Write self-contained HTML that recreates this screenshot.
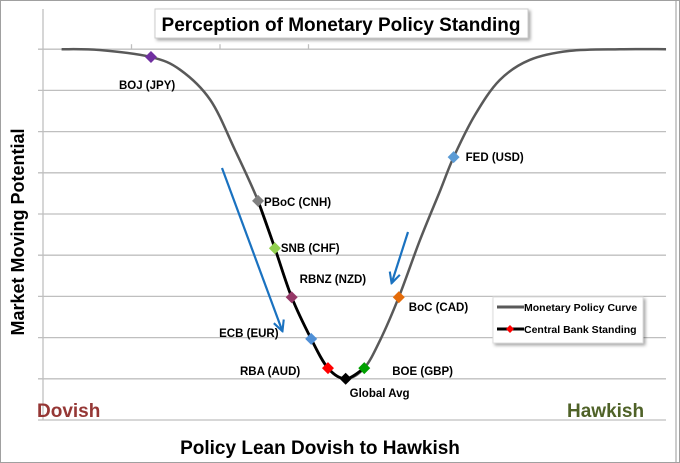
<!DOCTYPE html>
<html><head><meta charset="utf-8"><style>
body{margin:0;background:#fff}
svg{display:block;font-family:"Liberation Sans",Calibri,sans-serif}
text{font-weight:bold}
</style></head><body>
<svg id="c" width="680" height="463" viewBox="0 0 680 463">
<defs>
<filter id="sh" x="-10%" y="-20%" width="130%" height="150%"><feDropShadow dx="2" dy="2" stdDeviation="1.5" flood-color="#000" flood-opacity="0.35"/></filter>
<marker id="ah" viewBox="0 0 10 10" refX="8" refY="5" markerWidth="6" markerHeight="6" orient="auto"><path d="M1,1 L9,5 L1,9" fill="none" stroke="#1a72c0" stroke-width="1.6"/></marker>
</defs>
<rect x="0.5" y="0.5" width="679" height="462" fill="#fff" stroke="#a0a0a0"/>
<line x1="676" y1="1" x2="676" y2="462" stroke="#999"/>
<g id="grid"></g>
<line x1="38" y1="420" x2="666" y2="420" stroke="#bfbfbf" stroke-width="1.3"/>
<g id="curves"></g>
<g id="marks"></g>
<line x1="222" y1="168" x2="282" y2="330" stroke="#1a72c0" stroke-width="2.2" marker-end="url(#ah)"/>
<line x1="408" y1="232" x2="392" y2="282" stroke="#1a72c0" stroke-width="2.2" marker-end="url(#ah)"/>
<g>
<rect x="155" y="9" width="373" height="29" fill="#fff" stroke="#ccc" filter="url(#sh)"/>
<text x="341" y="31" font-size="19" text-anchor="middle" fill="#000">Perception of Monetary Policy Standing</text>
</g>
<text transform="translate(24,232) rotate(-90)" font-size="18" text-anchor="middle">Market Moving Potential</text>
<text x="320" y="454" font-size="19" text-anchor="middle">Policy Lean Dovish to Hawkish</text>
<text x="37" y="417" font-size="19" fill="#953735">Dovish</text>
<text x="567" y="417" font-size="19" fill="#4f6228">Hawkish</text>
<g>
<rect x="493" y="297" width="150" height="46" fill="#fff" stroke="#ddd" filter="url(#sh)"/>
<line x1="497" y1="307" x2="524" y2="307" stroke="#595959" stroke-width="3"/>
<text x="524" y="311" font-size="10.5">Monetary Policy Curve</text>
<line x1="497" y1="329" x2="524" y2="329" stroke="#000" stroke-width="3"/>
<path d="M510,325 L514,329 L510,333 L506,329Z" fill="#f00"/>
<text x="524" y="333" font-size="10.5">Central Bank Standing</text>
</g>
</svg>
<script>
const curveX=[0.21,0.64,1.22,1.55,1.89,2.17,2.43,2.62,2.81,3.03,3.22,3.42,3.63,3.81,4.02,4.26,4.49,4.64,4.88,5.16,5.50,5.95,6.52,7.04];
const curveY=[9.0,8.98,8.81,8.50,7.77,6.55,5.32,4.17,2.98,1.97,1.26,1.0,1.26,1.94,2.98,4.37,5.58,6.38,7.40,8.25,8.74,8.96,9.0,9.0];
const banks=["BOJ (JPY)","PBoC (CNH)","SNB (CHF)","RBNZ (NZD)","ECB (EUR)","RBA (AUD)","Global Avg","BOE (GBP)","BoC (CAD)","FED (USD)"];
const bankX=[1.22,2.43,2.62,2.81,3.03,3.22,3.42,3.63,4.02,4.64];
const bankY=[8.81,5.32,4.17,2.98,1.97,1.26,1.0,1.26,2.98,6.38];
const yTicks=[1,2,3,4,5,6,7,8,9];
const xTicks=[1,2,3];
const colors=["#7030a0","#808080","#92d050","#953767","#4f8fd6","#ff0000","#000","#00a000","#e46c0a","#5b9bd5"];
const lx=[-32,6,6,8,-92,-88,4,28,10,12];
const ly=[32,5,4,-14,-2,7,18,7,14,4];
const X=v=>43+v*88.5, Y=v=>420-v*41.2;
const ns="http://www.w3.org/2000/svg";
function mk(t,a,p){const e=document.createElementNS(ns,t);for(const k in a)e.setAttribute(k,a[k]);p.appendChild(e);return e;}
const g=document.getElementById('grid');
yTicks.forEach(v=>{const l=mk('line',{x1:38,x2:666,y1:Y(v),y2:Y(v),stroke:'#bfbfbf','stroke-width':1.3},g);

});
const ax=mk('line',{x1:43,x2:43,y1:9,y2:420,stroke:'#bfbfbf','stroke-width':1.3},g);


xTicks.forEach(v=>{const t=mk('line',{x1:X(v),x2:X(v),y1:Y(9)-5,y2:Y(9),stroke:'#bfbfbf','stroke-width':1.3},g);

});
function path(xs,ys){const P=xs.map((x,i)=>[X(x),Y(ys[i])]);let d='M'+P[0];
for(let i=0;i<P.length-1;i++){const p0=P[i-1]||P[i],p1=P[i],p2=P[i+1],p3=P[i+2]||p2;
d+=` C${p1[0]+(p2[0]-p0[0])/6},${p1[1]+(p2[1]-p0[1])/6} ${p2[0]-(p3[0]-p1[0])/6},${p2[1]-(p3[1]-p1[1])/6} ${p2[0]},${p2[1]}`;}return d;}
const cg=document.getElementById('curves');
const gc=mk('path',{d:path(curveX,curveY),fill:'none',stroke:'#595959','stroke-width':2.5},cg);


const i0=curveX.indexOf(bankX[1]),i1=curveX.indexOf(bankX[7]);
const bc=mk('path',{d:path(curveX.slice(i0,i1+1),curveY.slice(i0,i1+1)),fill:'none',stroke:'#000','stroke-width':2.8},cg);


const mg=document.getElementById('marks');
banks.forEach((b,i)=>{const x=X(bankX[i]),y=Y(bankY[i]);
const m=mk('path',{d:`M${x},${y-6} L${x+6},${y} L${x},${y+6} L${x-6},${y}Z`,fill:colors[i]},mg);


const t=mk('text',{x:x+lx[i],y:y+ly[i],'font-size':11.5},mg);t.textContent=b;

});
</script>
</body></html>
